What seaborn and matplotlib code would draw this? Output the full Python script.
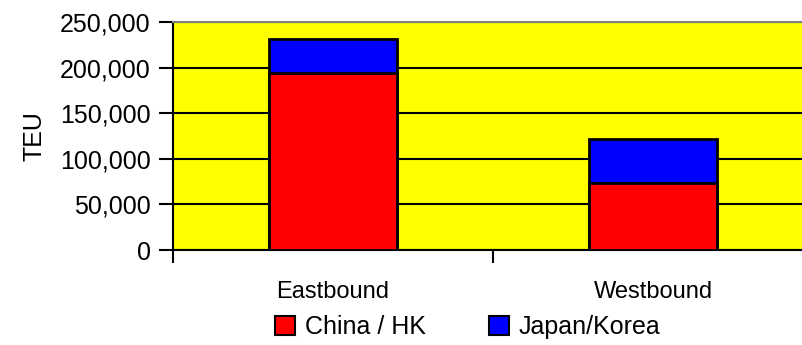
import matplotlib
matplotlib.use("Agg")
import matplotlib.pyplot as plt
import seaborn as sns
import pandas as pd
from matplotlib.patches import Patch
from matplotlib.ticker import FuncFormatter, FixedLocator

categories = ["Eastbound", "Westbound"]
china_hk = [194000, 74000]
japan_korea = [38000, 48000]
series_names = ["China / HK", "Japan/Korea"]
y_ticks = [0, 50000, 100000, 150000, 200000, 250000]

df = pd.DataFrame({"direction": categories, "china": china_hk, "japan": japan_korea})
df["total"] = df["china"] + df["japan"]

sns.set_style("white")
plt.rcParams["font.family"] = ["Liberation Sans", "DejaVu Sans"]
plt.rcParams["text.color"] = "black"
plt.rcParams["axes.labelcolor"] = "black"
plt.rcParams["xtick.color"] = "black"
plt.rcParams["ytick.color"] = "black"

fig = plt.figure(figsize=(8.03, 3.45), dpi=100)
ax = fig.add_axes([173 / 803, 95 / 345, 640 / 803, 227.7 / 345])
ax.set_facecolor("#FFFF00")

sns.barplot(data=df, x="direction", y="total", color="#0000FF", width=0.4,
            edgecolor="black", linewidth=2, saturation=1, ax=ax, zorder=2)
sns.barplot(data=df, x="direction", y="china", color="#FF0000", width=0.4,
            edgecolor="black", linewidth=2, saturation=1, ax=ax, zorder=3)

ax.set_xlim(-0.5, 1.5)
ax.set_ylim(0, 250000)
ax.set_yticks(y_ticks)
ax.yaxis.set_major_formatter(FuncFormatter(lambda v, p: f"{int(v):,}"))
ax.set_axisbelow(True)
ax.yaxis.grid(True, color="black", linewidth=1.5)
ax.xaxis.grid(False)

ax.tick_params(axis="y", direction="out", length=10, width=1.5, color="black",
               labelcolor="black", labelsize=18, pad=6, left=True)
ax.tick_params(axis="x", which="major", length=0, labelsize=17,
               labelcolor="black", pad=22)
ax.xaxis.set_minor_locator(FixedLocator([-0.5, 0.5, 1.5]))
ax.tick_params(axis="x", which="minor", direction="out", length=9, width=1.5,
               color="black", bottom=True)

ax.set_xlabel("")
ax.set_ylabel("TEU", fontsize=18, labelpad=10, color="black")

for s in ["left", "bottom"]:
    ax.spines[s].set_color("black")
    ax.spines[s].set_linewidth(1.5)
ax.spines["top"].set_color("#808080")
ax.spines["top"].set_linewidth(1.5)
ax.spines["right"].set_visible(False)

handles = [Patch(facecolor="#FF0000", edgecolor="black", linewidth=1.5),
           Patch(facecolor="#0000FF", edgecolor="black", linewidth=1.5)]
fig.legend(handles, series_names, ncol=2, frameon=False, fontsize=18,
           loc="center", bbox_to_anchor=(468 / 803, 1 - 327 / 345),
           handlelength=0.8, handleheight=0.8, handletextpad=0.4,
           columnspacing=2.5, borderaxespad=0, labelcolor="black")

fig.savefig("out.png", dpi=100)
